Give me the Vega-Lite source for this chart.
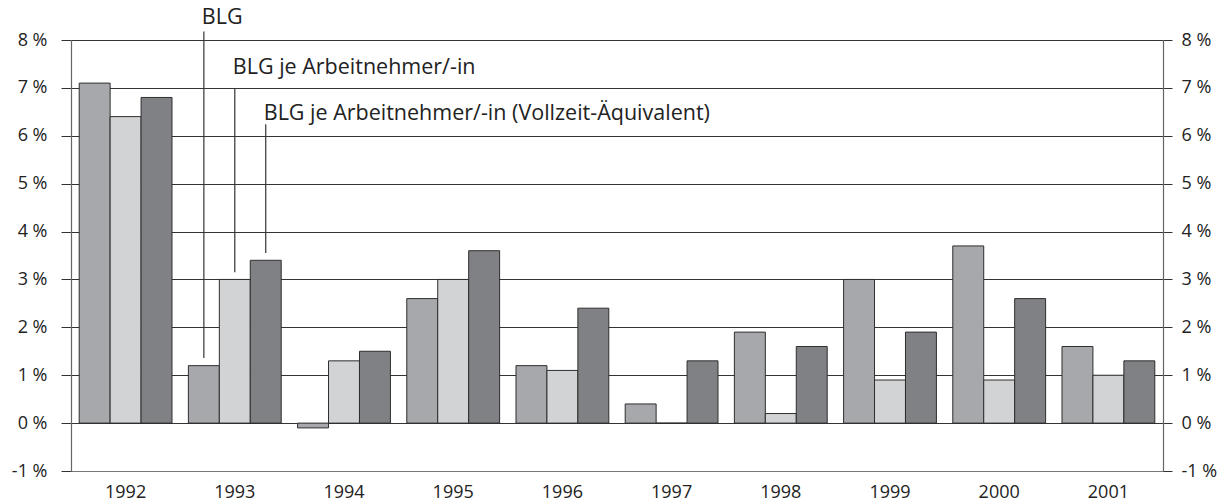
{
  "$schema": "https://vega.github.io/schema/vega-lite/v6.json",
  "width": 1092,
  "height": 431,
  "autosize": {"type": "none"},
  "padding": {"left": 71, "top": 40, "right": 69, "bottom": 33},
  "background": "white",
  "config": {
    "view": {"stroke": null},
    "font": "Open Sans",
    "axis": {
      "labelFont": "Open Sans",
      "labelFontSize": 18,
      "labelColor": "#222",
      "domainColor": "#666",
      "domainWidth": 1.2,
      "tickColor": "#333",
      "gridColor": "#333",
      "gridWidth": 1,
      "title": null
    }
  },
  "datasets": {
    "bars": [
      {"year": "1992", "series": "BLG", "value": 7.1},
      {"year": "1992", "series": "BLG je Arbeitnehmer/-in", "value": 6.4},
      {"year": "1992", "series": "BLG je Arbeitnehmer/-in (Vollzeit-Äquivalent)", "value": 6.8},
      {"year": "1993", "series": "BLG", "value": 1.2},
      {"year": "1993", "series": "BLG je Arbeitnehmer/-in", "value": 3.0},
      {"year": "1993", "series": "BLG je Arbeitnehmer/-in (Vollzeit-Äquivalent)", "value": 3.4},
      {"year": "1994", "series": "BLG", "value": -0.1},
      {"year": "1994", "series": "BLG je Arbeitnehmer/-in", "value": 1.3},
      {"year": "1994", "series": "BLG je Arbeitnehmer/-in (Vollzeit-Äquivalent)", "value": 1.5},
      {"year": "1995", "series": "BLG", "value": 2.6},
      {"year": "1995", "series": "BLG je Arbeitnehmer/-in", "value": 3.0},
      {"year": "1995", "series": "BLG je Arbeitnehmer/-in (Vollzeit-Äquivalent)", "value": 3.6},
      {"year": "1996", "series": "BLG", "value": 1.2},
      {"year": "1996", "series": "BLG je Arbeitnehmer/-in", "value": 1.1},
      {"year": "1996", "series": "BLG je Arbeitnehmer/-in (Vollzeit-Äquivalent)", "value": 2.4},
      {"year": "1997", "series": "BLG", "value": 0.4},
      {"year": "1997", "series": "BLG je Arbeitnehmer/-in", "value": 0.0},
      {"year": "1997", "series": "BLG je Arbeitnehmer/-in (Vollzeit-Äquivalent)", "value": 1.3},
      {"year": "1998", "series": "BLG", "value": 1.9},
      {"year": "1998", "series": "BLG je Arbeitnehmer/-in", "value": 0.2},
      {"year": "1998", "series": "BLG je Arbeitnehmer/-in (Vollzeit-Äquivalent)", "value": 1.6},
      {"year": "1999", "series": "BLG", "value": 3.0},
      {"year": "1999", "series": "BLG je Arbeitnehmer/-in", "value": 0.9},
      {"year": "1999", "series": "BLG je Arbeitnehmer/-in (Vollzeit-Äquivalent)", "value": 1.9},
      {"year": "2000", "series": "BLG", "value": 3.7},
      {"year": "2000", "series": "BLG je Arbeitnehmer/-in", "value": 0.9},
      {"year": "2000", "series": "BLG je Arbeitnehmer/-in (Vollzeit-Äquivalent)", "value": 2.6},
      {"year": "2001", "series": "BLG", "value": 1.6},
      {"year": "2001", "series": "BLG je Arbeitnehmer/-in", "value": 1.0},
      {"year": "2001", "series": "BLG je Arbeitnehmer/-in (Vollzeit-Äquivalent)", "value": 1.3}
    ],
    "notes": [
      {"year": "1993", "series": "BLG", "label": "BLG", "ytext": 8.33, "ytop": 8.18, "ybot": 1.36},
      {"year": "1993", "series": "BLG je Arbeitnehmer/-in", "label": "BLG je Arbeitnehmer/-in", "ytext": 7.3, "ytop": 6.98, "ybot": 3.15},
      {"year": "1993", "series": "BLG je Arbeitnehmer/-in (Vollzeit-Äquivalent)", "label": "BLG je Arbeitnehmer/-in (Vollzeit-Äquivalent)", "ytext": 6.33, "ytop": 6.24, "ybot": 3.55}
    ]
  },
  "layer": [
    {
      "data": {"name": "bars"},
      "mark": {"type": "bar", "stroke": "#2e2e2e", "strokeWidth": 1},
      "encoding": {
        "x": {
          "field": "year", "type": "nominal", "title": null,
          "scale": {"paddingInner": 0.15, "paddingOuter": 0.075},
          "axis": {"ticks": false, "labelPadding": 12, "labelAngle": 0, "domainColor": "#777"}
        },
        "xOffset": {
          "field": "series", "type": "nominal",
          "sort": ["BLG", "BLG je Arbeitnehmer/-in", "BLG je Arbeitnehmer/-in (Vollzeit-Äquivalent)"],
          "scale": {"paddingInner": 0, "paddingOuter": 0}
        },
        "y": {
          "field": "value", "type": "quantitative", "title": null,
          "scale": {"domain": [-1, 8], "nice": false, "zero": false},
          "axis": {"orient": "left", "values": [-1, 0, 1, 2, 3, 4, 5, 6, 7, 8], "labelExpr": "datum.value + ' %'", "tickSize": 10, "labelPadding": 14, "grid": true}
        },
        "color": {
          "field": "series", "type": "nominal", "legend": null,
          "scale": {"domain": ["BLG", "BLG je Arbeitnehmer/-in", "BLG je Arbeitnehmer/-in (Vollzeit-Äquivalent)"], "range": ["#a7a8ac", "#d2d3d5", "#808185"]}
        }
      }
    },
    {
      "data": {"name": "notes"},
      "mark": {"type": "rule", "color": "#333", "strokeWidth": 1.2},
      "encoding": {
        "x": {"field": "year", "type": "nominal", "title": null},
        "xOffset": {
          "field": "series", "type": "nominal",
          "sort": ["BLG", "BLG je Arbeitnehmer/-in", "BLG je Arbeitnehmer/-in (Vollzeit-Äquivalent)"]
        },
        "y": {
          "field": "ytop", "type": "quantitative", "title": null,
          "scale": {"domain": [-1, 8], "nice": false, "zero": false},
          "axis": {"orient": "right", "values": [-1, 0, 1, 2, 3, 4, 5, 6, 7, 8], "labelExpr": "datum.value + ' %'", "tickSize": 9, "labelPadding": 9, "grid": false}
        },
        "y2": {"field": "ybot"}
      }
    },
    {
      "data": {"name": "notes"},
      "mark": {"type": "text", "align": "left", "baseline": "alphabetic", "dx": -2, "fontSize": 21.5, "color": "#222", "font": "Open Sans"},
      "encoding": {
        "x": {"field": "year", "type": "nominal", "title": null},
        "xOffset": {
          "field": "series", "type": "nominal",
          "sort": ["BLG", "BLG je Arbeitnehmer/-in", "BLG je Arbeitnehmer/-in (Vollzeit-Äquivalent)"]
        },
        "y": {
          "field": "ytext", "type": "quantitative", "title": null,
          "scale": {"domain": [-1, 8], "nice": false, "zero": false},
          "axis": null
        },
        "text": {"field": "label"}
      }
    }
  ],
  "resolve": {"axis": {"y": "independent"}}
}
